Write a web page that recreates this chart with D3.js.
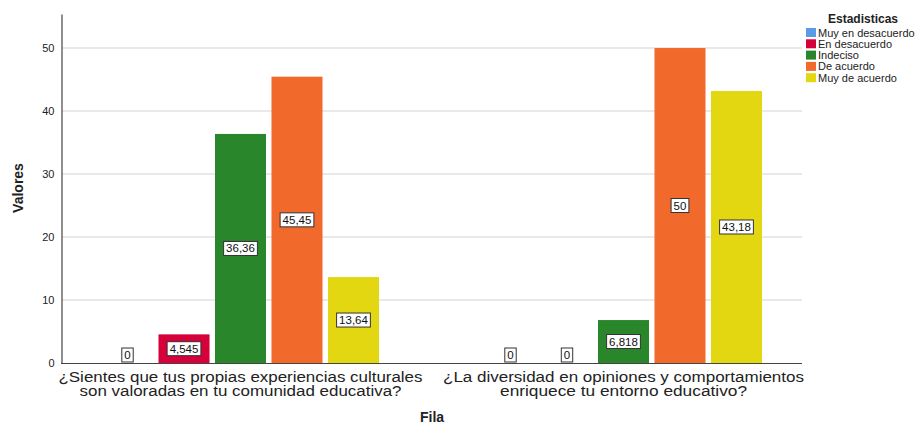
<!DOCTYPE html>
<html><head><meta charset="utf-8">
<script src="https://cdn.jsdelivr.net/npm/d3@7"></script>
<style>body{margin:0;background:#fff}svg{display:block;font-family:Arial,"Liberation Sans",sans-serif}</style>
</head><body><svg id="c" width="922" height="425"></svg>
<script>
const categories = [
  ["¿Sientes que tus propias experiencias culturales", "son valoradas en tu comunidad educativa?"],
  ["¿La diversidad en opiniones y comportamientos", "enriquece tu entorno educativo?"]
];
const categoryLineWidths = [[364, 322], [361, 247]];
const seriesNames = ["Muy en desacuerdo", "En desacuerdo", "Indeciso", "De acuerdo", "Muy de acuerdo"];
const seriesColors = ["#5b9be6", "#d6003a", "#2a862a", "#f2692c", "#e2d711"];
const valuesQ1 = [0, 4.545, 36.36, 45.45, 13.64];
const valuesQ2 = [0, 0, 6.818, 50, 43.18];
const valueLabelsQ1 = ["0", "4,545", "36,36", "45,45", "13,64"];
const valueLabelsQ2 = ["0", "0", "6,818", "50", "43,18"];
const yTicks = [0, 10, 20, 30, 40, 50];

const svg = d3.select("#c");
const catKeys = categories.map((c, i) => i);
const values = [valuesQ1, valuesQ2];
const labels = [valueLabelsQ1, valueLabelsQ2];

const y = d3.scaleLinear().domain([0, 55.4]).range([363, 14]);
const x0 = d3.scaleBand().domain(catKeys).range([49, 815]);
const x1 = d3.scaleBand().domain(d3.range(seriesNames.length)).range([-138.5, 138.5]).paddingInner(0.097);

// gridlines
svg.append("g").selectAll("line").data(yTicks.filter(d => d > 0)).join("line")
  .attr("x1", 62).attr("x2", 802).attr("y1", d => y(d)).attr("y2", d => y(d))
  .attr("stroke", "#d4d4d4").attr("stroke-width", 1.2);

// y axis
const yAxis = d3.axisLeft(y).tickValues(yTicks).tickSize(0).tickPadding(7).tickFormat(d3.format("d"));
const gy = svg.append("g").attr("transform", "translate(61.5,0)").call(yAxis);
gy.select(".domain").attr("stroke", "#444").attr("stroke-width", 1.2);
gy.selectAll("text").attr("font-size", 11).attr("fill", "#222").attr("font-family", "Arial, 'Liberation Sans', sans-serif");

// bars
const groups = svg.append("g").selectAll("g").data(catKeys).join("g")
  .attr("transform", c => `translate(${x0(c) + x0.bandwidth() / 2},0)`);
groups.selectAll("rect").data(c => values[c].map((v, i) => ({ v, i, c })).filter(d => d.v > 0)).join("rect")
  .attr("x", d => x1(d.i)).attr("width", x1.bandwidth())
  .attr("y", d => y(d.v)).attr("height", d => y(0) - y(d.v))
  .attr("fill", d => seriesColors[d.i]);

// x axis line
svg.append("line").attr("x1", 61).attr("x2", 802).attr("y1", 363.5).attr("y2", 363.5).attr("stroke", "#444").attr("stroke-width", 1.2);

// value labels
groups.each(function (c) {
  const g = d3.select(this);
  values[c].forEach((v, i) => {
    const t = labels[c][i];
    const cx = x1(i) + x1.bandwidth() / 2;
    const lab = g.append("g");
    const txt = lab.append("text").attr("font-size", 11.5).attr("fill", "#111").attr("text-anchor", "middle").text(t);
    const w = txt.node().getComputedTextLength() + 5;
    const h = 14;
    let cy = (y(v) + y(0)) / 2;
    cy = Math.min(cy, y(0) - h / 2 - 1);
    lab.insert("rect", "text").attr("x", cx - w / 2).attr("y", cy - h / 2).attr("width", w).attr("height", h)
      .attr("fill", "#fff").attr("stroke", "#333").attr("stroke-width", 1);
    txt.attr("x", cx).attr("y", cy + 4);
  });
});

// category labels
const catG = svg.append("g").selectAll("text").data(catKeys).join("text")
  .attr("text-anchor", "middle").attr("font-size", 14).attr("fill", "#222")
  .attr("transform", c => `translate(${x0(c) + x0.bandwidth() / 2},0)`);
catG.selectAll("tspan").data(c => categories[c].map((t, i) => ({ t, i, c }))).join("tspan")
  .attr("x", 0).attr("y", d => 382 + d.i * 13.5)
  .attr("textLength", d => categoryLineWidths[d.c][d.i]).attr("lengthAdjust", "spacingAndGlyphs")
  .text(d => d.t);

// axis titles
svg.append("text").attr("x", 432).attr("y", 422).attr("text-anchor", "middle")
  .attr("font-size", 14).attr("font-weight", "bold").attr("fill", "#222").text("Fila");
svg.append("text").attr("transform", "translate(23,188) rotate(-90)").attr("text-anchor", "middle")
  .attr("font-size", 14).attr("font-weight", "bold").attr("fill", "#222").text("Valores");

// legend
const lg = svg.append("g");
lg.append("text").attr("x", 863).attr("y", 23).attr("text-anchor", "middle").attr("font-size", 12)
  .attr("font-weight", "bold").attr("fill", "#222").text("Estadisticas");
const items = lg.selectAll("g.it").data(seriesNames).join("g").attr("class", "it")
  .attr("transform", (d, i) => `translate(806,${28 + i * 11.3})`);
items.append("rect").attr("width", 10).attr("height", 9).attr("fill", (d, i) => seriesColors[i]);
items.append("text").attr("x", 12).attr("y", 8.5).attr("font-size", 11).attr("fill", "#222").text(d => d);
</script></body></html>
